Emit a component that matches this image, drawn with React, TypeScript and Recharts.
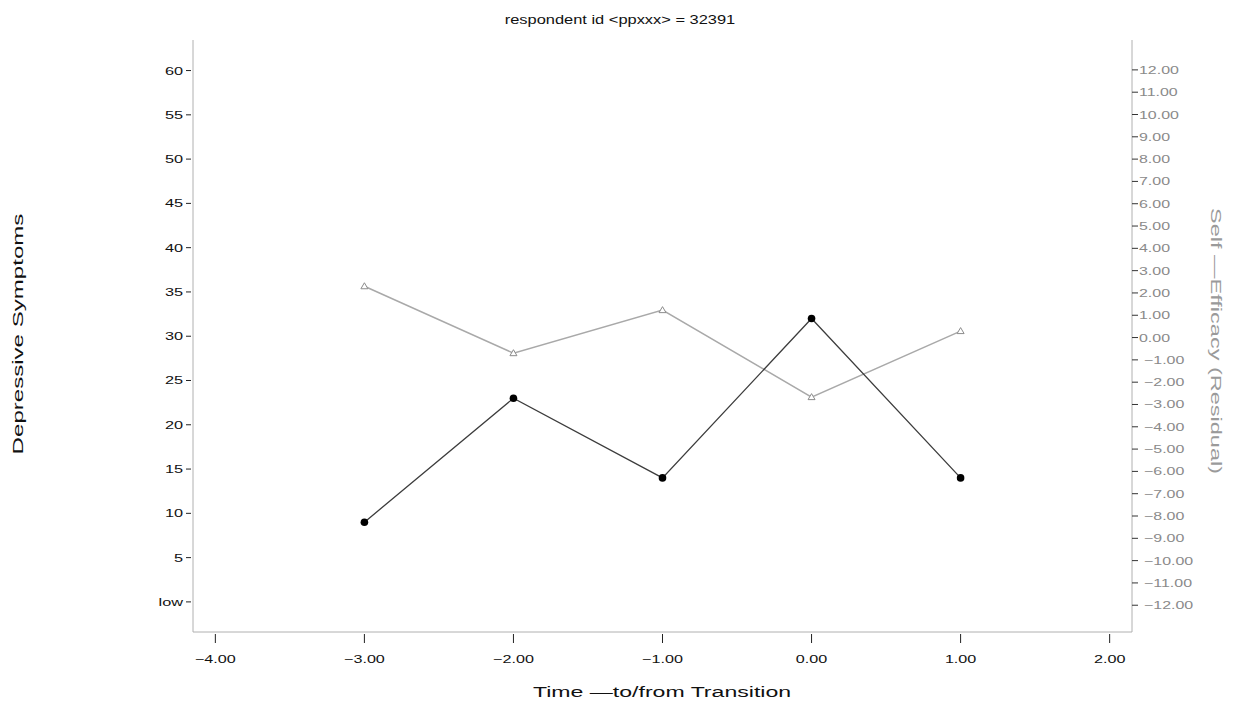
import { LineChart, Line, XAxis, YAxis } from "recharts";

/* ---------- DATA ---------- */

const timePoints = [-3, -2, -1, 0, 1];
const depressive = [9, 23, 14, 32, 14];
const selfEfficacy = [2.3, -0.7, 1.23, -2.67, 0.29];

const xTicks = [-4, -3, -2, -1, 0, 1, 2];
const leftTicks = [0, 5, 10, 15, 20, 25, 30, 35, 40, 45, 50, 55, 60];
const rightTicks = [
  12, 11, 10, 9, 8, 7, 6, 5, 4, 3, 2, 1, 0,
  -1, -2, -3, -4, -5, -6, -7, -8, -9, -10, -11, -12
];

const chartData = timePoints.map((t, i) => ({
  time: t,
  dep: depressive[i],
  se: selfEfficacy[i]
}));

const FONT = "'Liberation Sans', Arial, Helvetica, sans-serif";

function fmt2(v: number) {
  return (v < 0 ? "\u2212" : "") + Math.abs(v).toFixed(2);
}

/* ---------- STRETCHED TEXT (wide SAS-like glyphs) ---------- */

function StretchText({ x, y, sx, anchor, size, fill, rotate, children }: any) {
  return (
    <text
      transform={`translate(${x},${y}) rotate(${rotate || 0}) scale(${sx},1)`}
      textAnchor={anchor}
      fontSize={size}
      fill={fill}
      fontFamily={FONT}
    >
      {children}
    </text>
  );
}

/* ---------- TICKS ---------- */

function LeftTick({ x, y, payload }: any) {
  const v = payload.value;
  return (
    <g>
      <line x1={x - 7} x2={x - 2} y1={y} y2={y} stroke="#222" strokeWidth={1} />
      <StretchText x={x - 10} y={y + 4} sx={1.48} anchor="end" size={11} fill="#111">
        {v === 0 ? "low" : String(v)}
      </StretchText>
    </g>
  );
}

function RightTick({ x, y, payload }: any) {
  const v = payload.value;
  return (
    <g>
      <line x1={x} x2={x + 6} y1={y} y2={y} stroke="#333" strokeWidth={1} />
      <StretchText x={x + (v < 0 ? 12 : 7)} y={y + 4} sx={1.45} anchor="start" size={11} fill="#8a8a8a">
        {fmt2(v)}
      </StretchText>
    </g>
  );
}

function BottomTick({ x, y, payload }: any) {
  return (
    <g>
      <line x1={x} x2={x} y1={y + 2} y2={y + 11} stroke="#222" strokeWidth={1} />
      <StretchText x={x} y={y + 31} sx={1.47} anchor="middle" size={11} fill="#111">
        {fmt2(payload.value)}
      </StretchText>
    </g>
  );
}

/* ---------- MARKERS ---------- */

function Triangle({ cx, cy }: any) {
  if (cx == null || cy == null) return null;
  return (
    <polygon
      points={`${cx},${cy - 3.5} ${cx - 3.5},${cy + 2.5} ${cx + 3.5},${cy + 2.5}`}
      fill="#fff"
      stroke="#8c8c8c"
      strokeWidth={1}
    />
  );
}

/* ---------- MAIN ---------- */

export default function App() {
  return (
    <div style={{ position: "absolute", left: 0, top: 0, width: 1235, height: 709, background: "#fff" }}>
      <LineChart
        width={1235}
        height={709}
        data={chartData}
        margin={{ top: 40, right: 23, bottom: 37, left: 133 }}
      >
        <XAxis
          dataKey="time"
          type="number"
          domain={[-4.15, 2.15]}
          ticks={xTicks}
          height={40}
          tickSize={0}
          tickMargin={0}
          tickLine={false}
          tick={<BottomTick />}
          axisLine={{ stroke: "#b0b0b0" }}
          interval={0}
        />
        <XAxis
          xAxisId="top"
          dataKey="time"
          type="number"
          orientation="top"
          domain={[-4.15, 2.15]}
          height={0}
          tick={false}
          tickLine={false}
          axisLine={{ stroke: "#b0b0b0" }}
        />
        <YAxis
          yAxisId="dep"
          orientation="left"
          type="number"
          domain={[-3.4, 63.45]}
          ticks={leftTicks}
          width={60}
          tickSize={0}
          tickMargin={0}
          tickLine={false}
          tick={<LeftTick />}
          axisLine={{ stroke: "#b0b0b0" }}
          interval={0}
        />
        <YAxis
          yAxisId="se"
          orientation="right"
          type="number"
          domain={[-13.2, 13.34]}
          ticks={rightTicks}
          width={80}
          tickSize={0}
          tickMargin={0}
          tickLine={false}
          tick={<RightTick />}
          axisLine={{ stroke: "#b0b0b0" }}
          interval={0}
        />

        {/* SELF-EFFICACY */}
        <Line
          yAxisId="se"
          type="linear"
          dataKey="se"
          stroke="#a9a9a9"
          strokeWidth={1.5}
          dot={<Triangle />}
          activeDot={false}
          isAnimationActive={false}
        />

        {/* DEPRESSIVE SYMPTOMS */}
        <Line
          yAxisId="dep"
          type="linear"
          dataKey="dep"
          stroke="#3c3c3c"
          strokeWidth={1.3}
          dot={{ r: 3.8, fill: "#000", stroke: "#000", strokeWidth: 0 }}
          activeDot={false}
          isAnimationActive={false}
        />
      </LineChart>

      {/* TITLES */}
      <svg
        width={1235}
        height={709}
        style={{ position: "absolute", left: 0, top: 0, pointerEvents: "none" }}
      >
        <StretchText x={620} y={24} sx={1.37} anchor="middle" size={12} fill="#111">
          {"respondent id  <ppxxx> = 32391"}
        </StretchText>
        <StretchText x={23} y={334} sx={1.72} anchor="middle" size={14} fill="#111" rotate={-90}>
          Depressive Symptoms
        </StretchText>
        <StretchText x={1211} y={341} sx={1.68} anchor="middle" size={14} fill="#9a9a9a" rotate={90}>
          {"Self \u2014Efficacy (Residual)"}
        </StretchText>
        <StretchText x={662} y={697} sx={1.65} anchor="middle" size={14} fill="#111">
          {"Time \u2014to/from Transition"}
        </StretchText>
      </svg>
    </div>
  );
}
